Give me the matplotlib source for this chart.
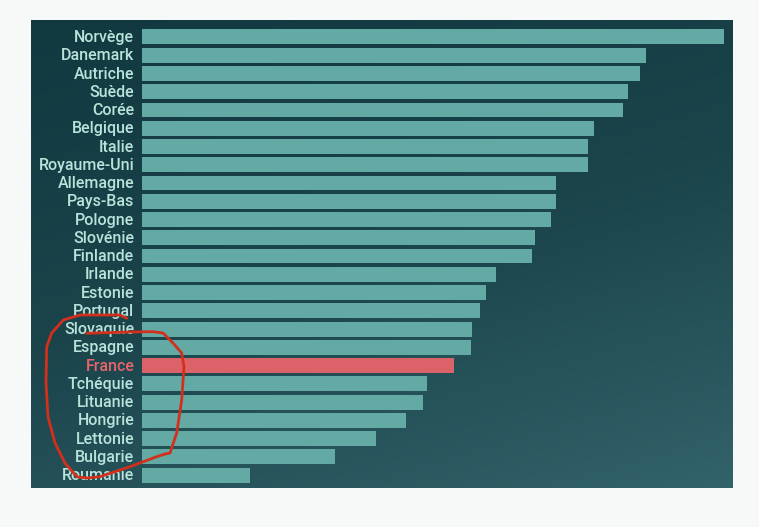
import numpy as np
import matplotlib.pyplot as plt
from matplotlib.colors import LinearSegmentedColormap

pays = ["Norvège", "Danemark", "Autriche", "Suède", "Corée", "Belgique", "Italie",
        "Royaume-Uni", "Allemagne", "Pays-Bas", "Pologne", "Slovénie", "Finlande",
        "Irlande", "Estonie", "Portugal", "Slovaquie", "Espagne", "France",
        "Tchéquie", "Lituanie", "Hongrie", "Lettonie", "Bulgarie", "Roumanie"]
valeurs = [58.2, 50.4, 49.8, 48.6, 48.1, 45.2, 44.6, 44.6, 41.4, 41.4, 40.9, 39.3,
           39.0, 35.4, 34.4, 33.8, 33.0, 32.9, 31.2, 28.5, 28.1, 26.4, 23.4, 19.3, 10.8]
pays_mis_en_avant = "France"

# trait rouge dessiné à la main (en pixels de l'image)
cercle_x = [126.7, 120, 80, 63.3, 51.7, 46.7, 46, 48, 55, 65, 76.7, 86.7, 100, 130,
            156.7, 165, 170, 176.7, 181.7, 184, 181.7, 173, 163, 153, 130, 106.7, 86.7]
cercle_y = [318.3, 315, 315, 320, 333, 346.7, 383, 417, 443, 463, 476.7, 478, 476.7,
            466.7, 456.7, 454, 453, 433, 400, 366.7, 353, 343, 333, 331.7, 332, 332.7, 333.3]

W, H = 759, 527
fig = plt.figure(figsize=(W / 100, H / 100), dpi=100)
fig.patch.set_facecolor("#f7f8f8")

# fond du panneau avec dégradé
bg = fig.add_axes([31 / W, 1 - 488 / H, (733 - 31) / W, (488 - 20) / H])
cmap = LinearSegmentedColormap.from_list("fond", ["#123840", "#1b444b", "#32626a"])
gx, gy = np.meshgrid(np.linspace(0, 1, 200), np.linspace(0, 1, 200))
bg.imshow(0.3 * gx + 0.7 * gy, cmap=cmap, aspect="auto", extent=[0, 1, 1, 0])
bg.axis("off")

ax = fig.add_axes([142 / W, 1 - 488 / H, (733 - 142) / W, (488 - 20) / H])
ax.set_facecolor("none")
y = np.arange(len(pays))
couleurs = ["#dc626a" if p == pays_mis_en_avant else "#62aaa3" for p in pays]
ax.barh(y, valeurs, height=0.82, color=couleurs)
ax.set_ylim(24.71, -0.93)
ax.set_xlim(0, 59.1)
ax.set_xticks([])
ax.set_yticks(y - 0.05)
ax.set_yticklabels(pays, fontsize=11.5, family="Roboto", fontweight="medium")
ax.tick_params(axis="y", length=0, pad=5.5)
for lab in ax.get_yticklabels():
    lab.set_color("#e7646c" if lab.get_text() == pays_mis_en_avant else "#b9e2da")
for s in ax.spines.values():
    s.set_visible(False)

# annotation rouge
ov = fig.add_axes([0, 0, 1, 1])
ov.set_xlim(0, W)
ov.set_ylim(H, 0)
ov.axis("off")
ov.plot(cercle_x, cercle_y, color="#d2301c", lw=2, solid_capstyle="round")

fig.savefig("out.png", dpi=100, facecolor=fig.get_facecolor())
